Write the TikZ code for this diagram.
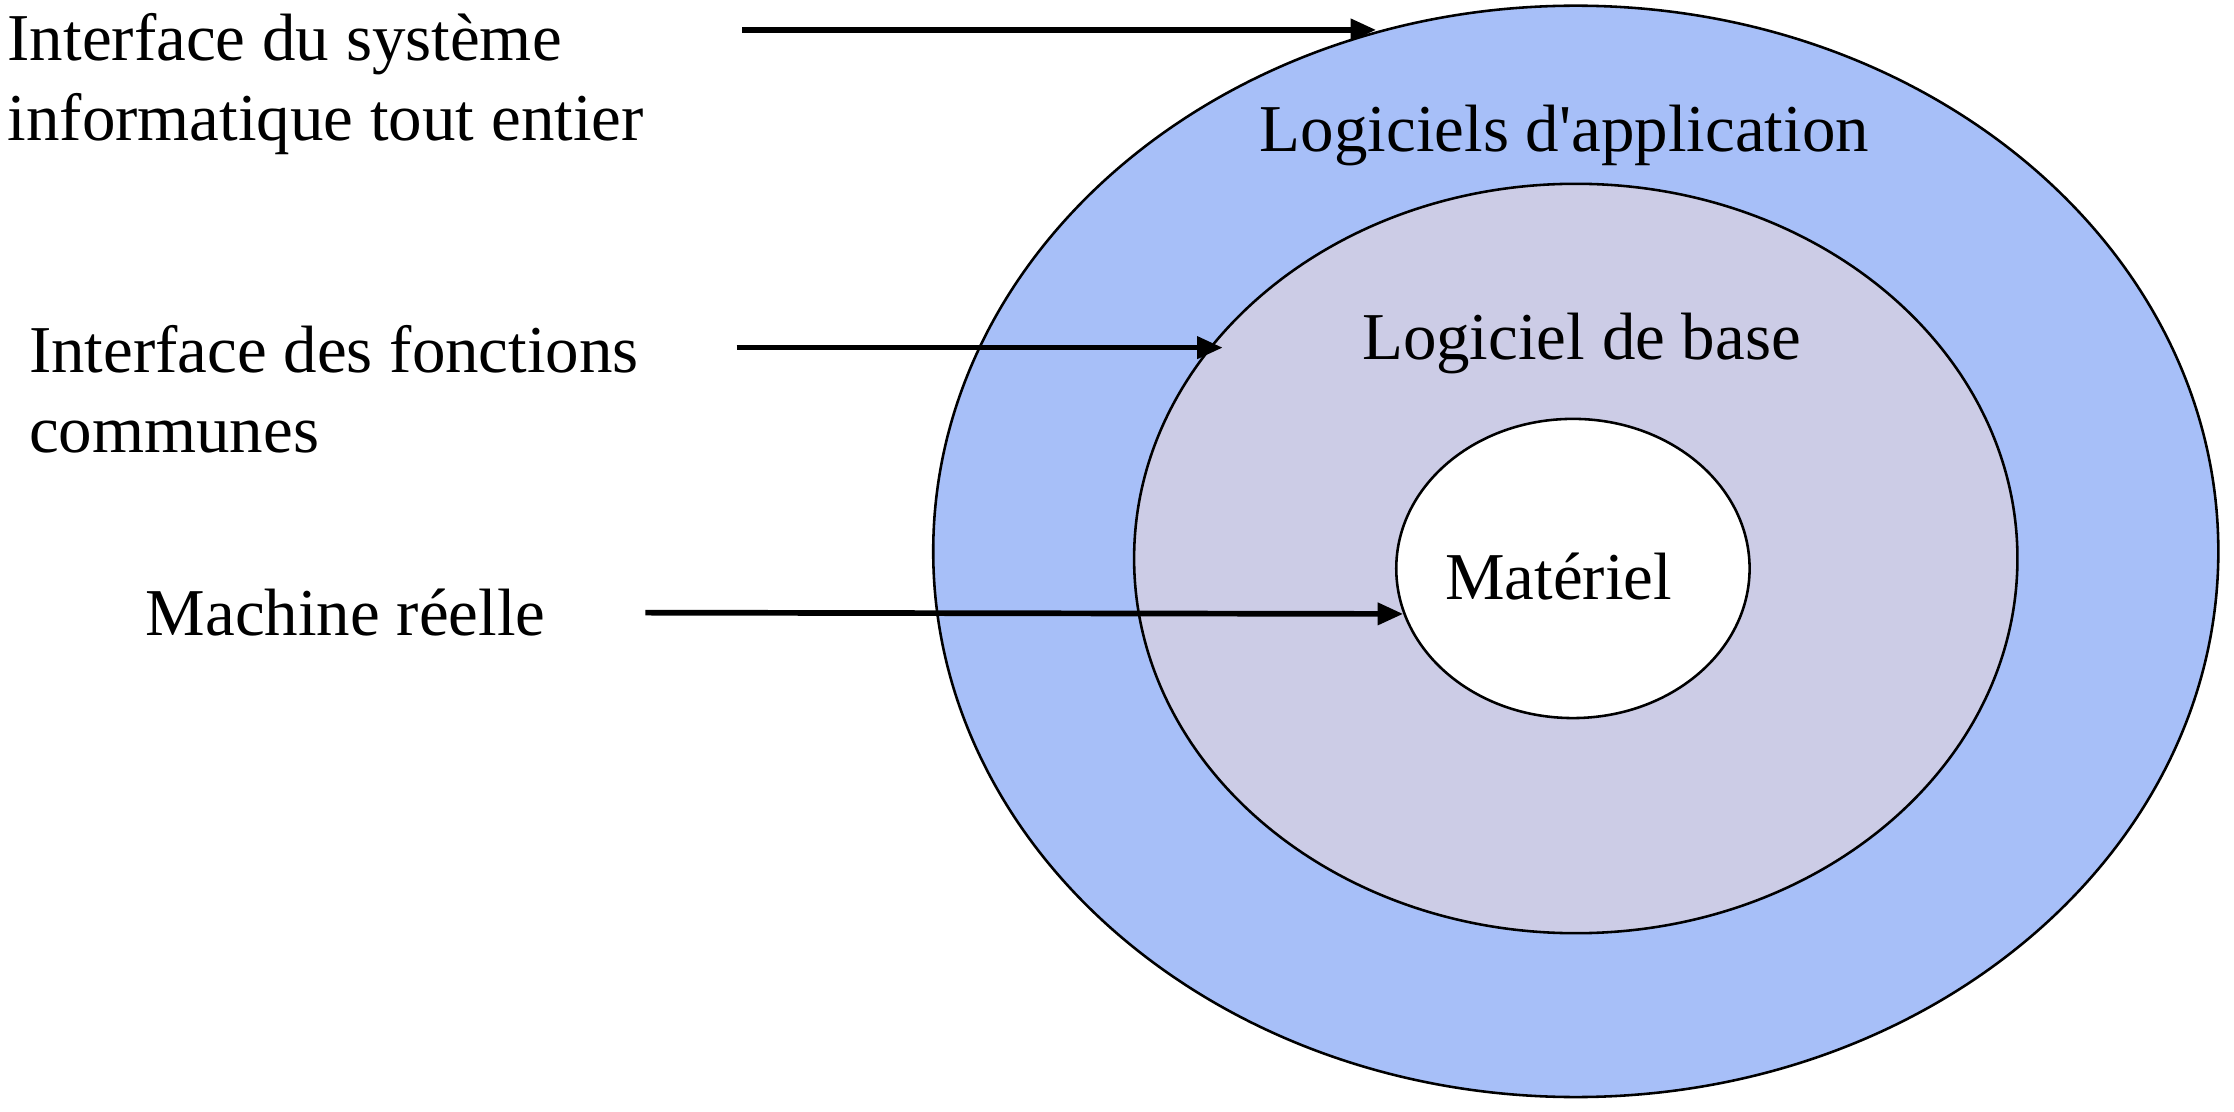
\documentclass[tikz,border=0pt]{standalone}
\usepackage{fontspec}
\setmainfont{Liberation Serif}
\newfontfamily\labelfont{Liberation Serif}
\usepackage{xcolor}
\usetikzlibrary{arrows.meta, positioning, shapes.geometric}
\definecolor{appblue}{HTML}{A7BFF8}
\definecolor{baselilac}{HTML}{CCCCE6}

\begin{document}
\begin{tikzpicture}[x=0.5pt, y=-0.5pt,
    every node/.style={font=\labelfont\fontsize{23.5}{28}\selectfont},
    layer/.style={
        ellipse, draw=black, line width=0.9pt,
        inner sep=0pt,
    },
    layername/.style={anchor=center, inner sep=0pt},
    sidenote/.style={anchor=west, align=left, inner sep=0pt},
    pointer/.style={
        draw=black, line width=2pt,
        -{Triangle[length=9pt, width=7.5pt]},
    },
]
\useasboundingbox (0,0) rectangle (1568,780);

% ── Layers ─────────────────────────────────────────────────────────────
\node[layer, fill=appblue, minimum width=451pt, minimum height=383pt] (outer) at (1106,387) {};
\node[layer, fill=baselilac, minimum width=310pt, minimum height=263pt] (middle) at (1106,392) {};
\node[layer, fill=white, minimum width=124pt, minimum height=105pt] (inner) at (1104,399) {};

\node[layername] (appname) at (1098,95) {Logiciels d\char"27 application};
\node[layername] (basename) at (1110,241) {Logiciel de base};
\node[layername] (hwname) at (1094,405) {Matériel};

% ── Interfaces ─────────────────────────────────────────────────────────
\node[sidenote] (sysif) at (5,59) {Interface du système\\informatique tout entier};
\node[sidenote] (funcif) at (20,273) {Interface des fonctions\\communes};
\node[sidenote] (realm) at (102,430) {Machine réelle};

\coordinate (a1) at (521,21);
\coordinate (a2) at (517,244);
\coordinate (a3) at (453,430);

% ── Links ──────────────────────────────────────────────────────────────
\draw[pointer] (a1) -- (a1 -| outer.111.75);
\draw[pointer, shorten >=-3pt] (a2) -- (a2 -| middle.149.5);
\draw[pointer] (a3) -- (inner.195.9);

\end{tikzpicture}
\end{document}
